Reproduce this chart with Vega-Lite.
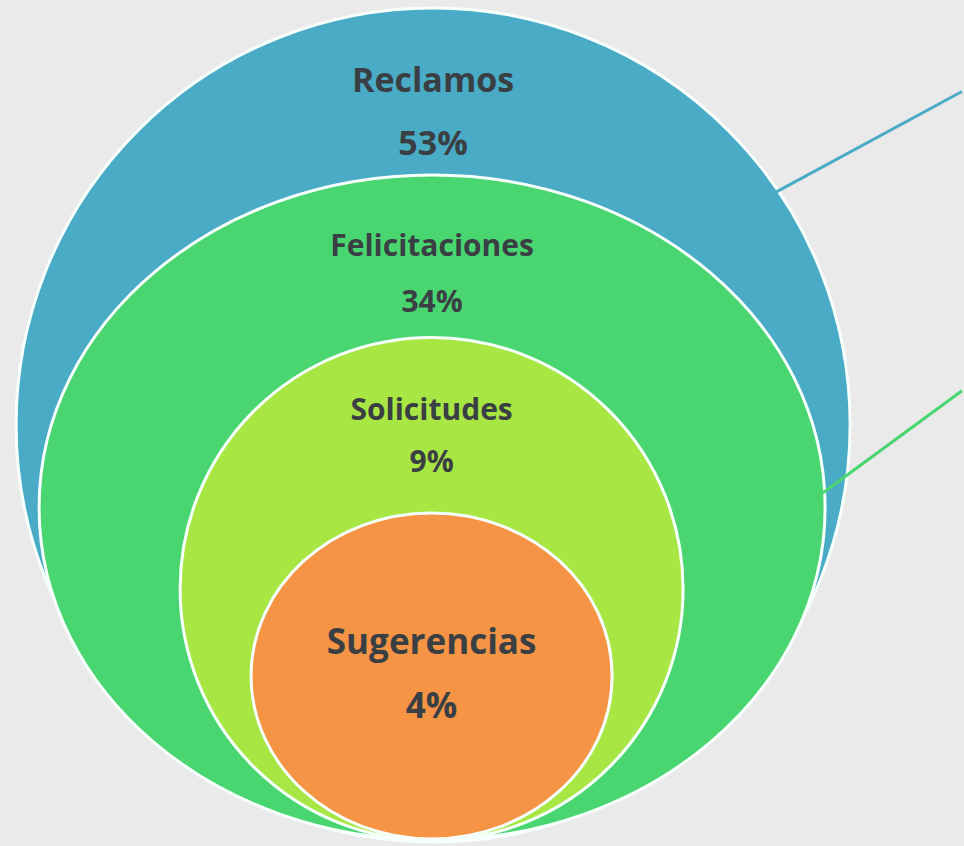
{
  "$schema": "https://vega.github.io/schema/vega-lite/v6.json",
  "width": 964,
  "height": 846,
  "autosize": {"type": "fit", "contains": "padding"},
  "padding": 0,
  "background": "#ebeaeb",
  "config": {"view": {"stroke": null}},
  "datasets": {
    "rings": [
      {"name": "Reclamos", "pct": "53%", "cx": 434, "cy": 427.5, "w": 834, "ty": 93, "py": 156},
      {"name": "Felicitaciones", "pct": "34%", "cx": 433, "cy": 510.5, "w": 786, "ty": 258, "py": 314},
      {"name": "Solicitudes", "pct": "9%", "cx": 432.5, "cy": 592.5, "w": 503, "ty": 422, "py": 475},
      {"name": "Sugerencias", "pct": "4%", "cx": 432.5, "cy": 680, "w": 361, "ty": 658, "py": 722}
    ],
    "leaders": [
      {"name": "Reclamos", "x1": 778, "y1": 193, "x2": 964, "y2": 92},
      {"name": "Felicitaciones", "x1": 823, "y1": 497, "x2": 964, "y2": 393}
    ]
  },
  "layer": [
    {
      "data": {"name": "rings"},
      "mark": {"type": "point", "filled": true, "opacity": 1, "stroke": "#f6fffc", "strokeWidth": 3},
      "encoding": {
        "x": {"field": "cx", "type": "quantitative", "scale": {"domain": [0, 964], "nice": false, "zero": false}, "axis": null},
        "y": {"field": "cy", "type": "quantitative", "scale": {"domain": [0, 846], "nice": false, "zero": false, "reverse": true}, "axis": null},
        "size": {"field": "w", "type": "quantitative", "scale": {"type": "pow", "exponent": 2, "domain": [0, 964], "range": [0, 929296]}, "legend": null},
        "shape": {"field": "name", "type": "nominal", "scale": {"domain": ["Reclamos", "Felicitaciones", "Solicitudes", "Sugerencias"], "range": ["circle", "M1,0C1,0.4672,0.5523,0.846,0,0.846C-0.5523,0.846,-1,0.4672,-1,0C-1,-0.4672,-0.5523,-0.846,0,-0.846C0.5523,-0.846,1,-0.4672,1,0Z", "circle", "M1,0C1,0.4987,0.5523,0.903,0,0.903C-0.5523,0.903,-1,0.4987,-1,0C-1,-0.4987,-0.5523,-0.903,0,-0.903C0.5523,-0.903,1,-0.4987,1,0Z"]}, "legend": null},
        "color": {"field": "name", "type": "nominal", "scale": {"domain": ["Reclamos", "Felicitaciones", "Solicitudes", "Sugerencias"], "range": ["#4aabc6", "#49d670", "#a8e643", "#f59445"]}, "legend": null},
        "order": {"field": "w", "sort": "descending"}
      }
    },
    {
      "data": {"name": "leaders"},
      "mark": {"type": "rule", "strokeWidth": 3},
      "encoding": {
        "x": {"field": "x1", "type": "quantitative", "scale": {"domain": [0, 964], "nice": false, "zero": false}, "axis": null},
        "y": {"field": "y1", "type": "quantitative", "scale": {"domain": [0, 846], "nice": false, "zero": false, "reverse": true}, "axis": null},
        "x2": {"field": "x2"},
        "y2": {"field": "y2"},
        "color": {"field": "name", "type": "nominal", "scale": {"domain": ["Reclamos", "Felicitaciones", "Solicitudes", "Sugerencias"], "range": ["#4aabc6", "#49d670", "#a8e643", "#f59445"]}, "legend": null}
      }
    },
    {
      "data": {"name": "rings"},
      "mark": {"type": "text", "font": "Open Sans", "fontWeight": "bold", "color": "#3a3f44", "baseline": "alphabetic", "align": "center"},
      "encoding": {
        "x": {"field": "cx", "type": "quantitative", "scale": {"domain": [0, 964], "nice": false, "zero": false}, "axis": null},
        "y": {"field": "ty", "type": "quantitative", "scale": {"domain": [0, 846], "nice": false, "zero": false, "reverse": true}, "axis": null},
        "text": {"field": "name"},
        "size": {"field": "name", "type": "nominal", "scale": {"type": "ordinal", "domain": ["Reclamos", "Felicitaciones", "Solicitudes", "Sugerencias"], "range": [34, 30, 30, 35]}, "legend": null}
      }
    },
    {
      "data": {"name": "rings"},
      "mark": {"type": "text", "font": "Open Sans", "fontWeight": "bold", "color": "#3a3f44", "baseline": "alphabetic", "align": "center"},
      "encoding": {
        "x": {"field": "cx", "type": "quantitative", "scale": {"domain": [0, 964], "nice": false, "zero": false}, "axis": null},
        "y": {"field": "py", "type": "quantitative", "scale": {"domain": [0, 846], "nice": false, "zero": false, "reverse": true}, "axis": null},
        "text": {"field": "pct"},
        "size": {"field": "name", "type": "nominal", "scale": {"type": "ordinal", "domain": ["Reclamos", "Felicitaciones", "Solicitudes", "Sugerencias"], "range": [34, 30, 30, 35]}, "legend": null}
      }
    }
  ],
  "resolve": {"scale": {"size": "independent"}}
}
